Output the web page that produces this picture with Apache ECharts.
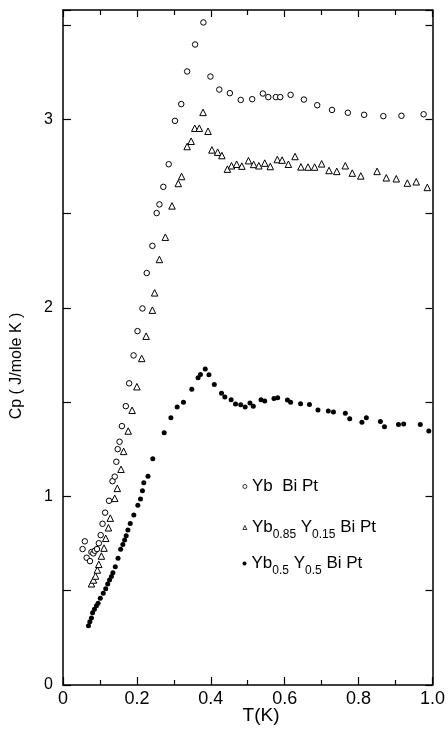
<!DOCTYPE html>
<html>
<head>
<meta charset="utf-8">
<script src="https://cdn.jsdelivr.net/npm/echarts@6/dist/echarts.min.js"></script>
<style>
html,body{margin:0;padding:0;background:#fff;}
#chart{width:448px;height:732px;}
</style>
</head>
<body>
<div id="chart"></div>
<script>
// ---- Data ----
var xTicks = ['0', '0.2', '0.4', '0.6', '0.8', '1.0'];
var yTicks = ['0', '1', '2', '3'];

var ybT = [0.053,0.059,0.064,0.073,0.077,0.082,0.086,0.092,0.097,0.102,0.107,0.114,0.1245,0.134,0.140,0.1443,0.148,0.153,0.1594,0.170,0.179,0.191,0.2016,0.215,0.2266,0.242,0.2535,0.261,0.2715,0.286,0.303,0.320,0.336,0.3575,0.380,0.399,0.423,0.4516,0.481,0.512,0.541,0.5556,0.576,0.588,0.616,0.652,0.688,0.728,0.771,0.815,0.867,0.916,0.976];
var ybCp = [0.721,0.762,0.675,0.657,0.705,0.698,0.712,0.721,0.752,0.795,0.855,0.914,0.977,1.081,1.105,1.184,1.251,1.290,1.373,1.479,1.600,1.748,1.877,1.997,2.185,2.329,2.503,2.549,2.642,2.762,2.992,3.081,3.254,3.397,3.514,3.227,3.158,3.139,3.103,3.107,3.137,3.118,3.118,3.118,3.130,3.105,3.075,3.050,3.035,3.024,3.017,3.019,3.027];

var y15T = [0.077,0.0825,0.088,0.093,0.0968,0.104,0.111,0.1156,0.123,0.128,0.140,0.147,0.157,0.164,0.1765,0.187,0.200,0.213,0.225,0.242,0.248,0.261,0.277,0.295,0.312,0.321,0.336,0.3468,0.3566,0.369,0.379,0.3925,0.403,0.4185,0.430,0.445,0.456,0.470,0.484,0.502,0.516,0.530,0.546,0.561,0.580,0.593,0.610,0.628,0.644,0.663,0.681,0.700,0.720,0.741,0.764,0.783,0.806,0.850,0.875,0.902,0.932,0.956,0.986];
var y15Cp = [0.537,0.557,0.578,0.610,0.640,0.684,0.726,0.778,0.834,0.885,0.990,1.043,1.144,1.239,1.347,1.457,1.582,1.732,1.850,1.988,2.080,2.257,2.375,2.541,2.660,2.697,2.856,2.884,2.953,2.953,3.037,2.937,2.838,2.826,2.808,2.736,2.754,2.762,2.752,2.781,2.761,2.754,2.768,2.750,2.787,2.784,2.762,2.803,2.748,2.747,2.747,2.764,2.729,2.724,2.754,2.715,2.700,2.724,2.690,2.685,2.662,2.669,2.639];

var y50T = [0.069,0.0726,0.077,0.080,0.085,0.0905,0.095,0.101,0.109,0.1156,0.121,0.126,0.131,0.135,0.1415,0.149,0.156,0.162,0.1667,0.171,0.1756,0.182,0.1917,0.2025,0.2097,0.215,0.2186,0.230,0.243,0.274,0.292,0.309,0.326,0.3486,0.3656,0.372,0.385,0.395,0.4095,0.429,0.438,0.455,0.467,0.481,0.493,0.506,0.515,0.536,0.546,0.571,0.581,0.6075,0.616,0.643,0.667,0.690,0.718,0.732,0.764,0.776,0.809,0.821,0.859,0.870,0.908,0.922,0.967,0.990];
var y50Cp = [0.314,0.336,0.355,0.383,0.402,0.420,0.433,0.460,0.486,0.511,0.536,0.557,0.576,0.596,0.627,0.672,0.720,0.745,0.769,0.792,0.822,0.857,0.901,0.954,0.986,1.030,1.073,1.107,1.200,1.338,1.417,1.474,1.500,1.569,1.630,1.647,1.676,1.645,1.594,1.547,1.527,1.513,1.490,1.486,1.474,1.495,1.479,1.513,1.506,1.520,1.523,1.511,1.499,1.492,1.488,1.458,1.453,1.448,1.441,1.412,1.394,1.417,1.398,1.370,1.382,1.384,1.382,1.347];

var seriesNames = ['YbBiPt', 'Yb0.85Y0.15BiPt', 'Yb0.5Y0.5BiPt'];
var legendLabels = [
  '{m|Yb  Bi Pt}',
  '{m|Yb}{s|0.85}{m| Y}{s|0.15}{m| Bi Pt}',
  '{m|Yb}{s|0.5}{m| Y}{s|0.5}{m| Bi Pt}'
];

function zip(a, b) { return a.map(function (v, i) { return [v, b[i]]; }); }

var FONT = "'Liberation Sans', Arial, Helvetica, sans-serif";
var chart = echarts.init(document.getElementById('chart'), null, {renderer: 'canvas'});

function xAxisCfg(pos, showLabel, tickLen) {
  return {
    type: 'value', position: pos, min: 0, max: 1, interval: 0.2,
    axisLine: {show: true, onZero: false, lineStyle: {color: '#000', width: 1.5}},
    axisTick: {show: true, inside: true, length: tickLen, lineStyle: {color: '#000', width: 1.2}},
    minorTick: {show: true, splitNumber: 2, length: 5, lineStyle: {color: '#000', width: 1.2}},
    splitLine: {show: false}, minorSplitLine: {show: false},
    axisLabel: {show: showLabel, color: '#000', fontSize: 18, fontFamily: FONT, margin: 5,
      formatter: function (v) { var i = Math.round(v / 0.2); return xTicks[i] !== undefined && Math.abs(v - i * 0.2) < 1e-6 ? xTicks[i] : ''; }}
  };
}
function yAxisCfg(pos, showLabel, tickLen) {
  return {
    type: 'value', position: pos, min: 0, max: 3.58, interval: 0.5,
    axisLine: {show: true, onZero: false, lineStyle: {color: '#000', width: 1.5}},
    axisTick: {show: true, inside: true, length: tickLen, lineStyle: {color: '#000', width: 1.2}},
    splitLine: {show: false},
    axisLabel: {show: showLabel, color: '#000', fontSize: 16, fontFamily: FONT, margin: 10,
      formatter: function (v) { return (Math.abs(v - Math.round(v)) < 1e-6 && yTicks[Math.round(v)] !== undefined) ? yTicks[Math.round(v)] : ''; }}
  };
}

function legendCfg(idx, top) {
  return {
    data: [seriesNames[idx]], orient: 'vertical', left: 242.5, top: top, padding: 0,
    itemWidth: 4, itemHeight: 4, selectedMode: false,
    itemStyle: {borderWidth: 0.8},
    formatter: function () { return legendLabels[idx]; },
    textStyle: {
      color: '#000', fontFamily: FONT,
      rich: {
        m: {fontSize: 17, lineHeight: 26, fontFamily: FONT, color: '#000'},
        s: {fontSize: 12, lineHeight: 12, verticalAlign: 'bottom', fontFamily: FONT, color: '#000'}
      }
    }
  };
}

var option = {
  animation: false,
  backgroundColor: '#fff',
  grid: {left: 63, right: 13, top: 10, bottom: 47, containLabel: false},
  xAxis: [xAxisCfg('bottom', true, 8), xAxisCfg('top', false, 7)],
  yAxis: [yAxisCfg('left', true, 8), yAxisCfg('right', false, 7)],
  legend: [legendCfg(0, 478), legendCfg(1, 519), legendCfg(2, 555)],
  graphic: [
    {type: 'text', x: 17, y: 366, rotation: Math.PI / 2,
      style: {text: 'Cp ( J/mole K )', font: '16px ' + FONT, fill: '#000', textAlign: 'center', textVerticalAlign: 'middle'}},
    {type: 'text', x: 261, y: 716,
      style: {text: 'T(K)', font: '19px ' + FONT, fill: '#000', textAlign: 'center', textVerticalAlign: 'middle'}}
  ],
  series: [
    {name: seriesNames[0], type: 'scatter', xAxisIndex: 0, yAxisIndex: 0, data: zip(ybT, ybCp),
      symbol: 'circle', symbolSize: 5.5, itemStyle: {color: '#fff', borderColor: '#000', borderWidth: 1, opacity: 1}},
    {name: seriesNames[1], type: 'scatter', xAxisIndex: 0, yAxisIndex: 0, data: zip(y15T, y15Cp),
      symbol: 'triangle', symbolSize: 6.5, itemStyle: {color: '#fff', borderColor: '#000', borderWidth: 1, opacity: 1}},
    {name: seriesNames[2], type: 'scatter', xAxisIndex: 0, yAxisIndex: 0, data: zip(y50T, y50Cp),
      symbol: 'circle', symbolSize: 5, itemStyle: {color: '#000', borderWidth: 0, opacity: 1}}
  ]
};
chart.setOption(option);
</script>
</body>
</html>
